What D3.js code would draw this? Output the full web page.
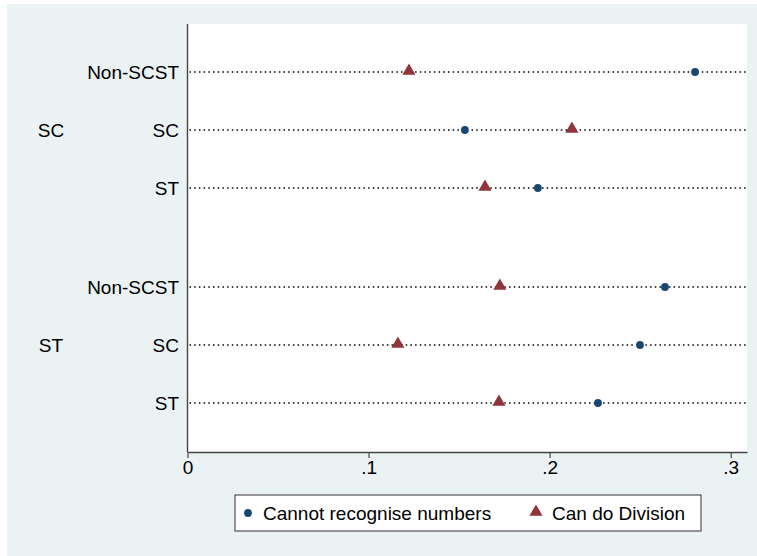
<!DOCTYPE html>
<html>
<head>
<meta charset="utf-8">
<script src="https://cdn.jsdelivr.net/npm/d3@7"></script>
<style>
  body { margin: 0; background: #fff; }
  text { font-family: "Liberation Sans", Arial, Helvetica, sans-serif; fill: #000; }
</style>
</head>
<body>
<script>
// data
var groups = ["SC", "ST"];
var rows = ["Non-SCST", "SC", "ST"];
var cannotRecognise = [[0.2803, 0.1532, 0.1935], [0.2637, 0.2499, 0.2267]];
var canDivide = [[0.1223, 0.2123, 0.1643], [0.1725, 0.1162, 0.1720]];
var xTicks = [0, 0.1, 0.2, 0.3];
var xTickLabels = ["0", ".1", ".2", ".3"];
var seriesNames = ["Cannot recognise numbers", "Can do Division"];

var width = 757, height = 556;
var plotLeft = 187.5, plotRight = 747, plotTop = 24, plotBottom = 452;
var navy = "#1a476f", maroon = "#90353b";
var groupGap = 1.707; // extra slots between the two groups

var svg = d3.select("body")
    .append("svg")
    .attr("width", width)
    .attr("height", height);

// background
svg.append("rect")
    .attr("x", 7).attr("y", 4)
    .attr("width", width - 7).attr("height", height - 4)
    .attr("fill", "#eaf2f3");

svg.append("rect")
    .attr("x", plotLeft).attr("y", plotTop)
    .attr("width", plotRight - plotLeft).attr("height", plotBottom - plotTop)
    .attr("fill", "#fff");

// scales
var xScale = d3.scaleLinear()
    .domain([0, 0.309])
    .range([plotLeft, plotRight]);

var yScale = d3.scaleLinear()
    .domain([0, rows.length * groups.length - 1 + groupGap - 1])
    .range([72, 403]);

function slot(g, r) { return g * (rows.length - 1 + groupGap) + r; }

// flatten to points
var lines = [];
groups.forEach(function(g, gi) {
    rows.forEach(function(r, ri) {
        lines.push({ group: g, row: r, y: yScale(slot(gi, ri)),
            a: cannotRecognise[gi][ri], b: canDivide[gi][ri] });
    });
});

// dotted lines
svg.selectAll(".dotline")
    .data(lines)
    .enter()
    .append("line")
    .attr("class", "dotline")
    .attr("x1", plotLeft + 2)
    .attr("x2", plotRight)
    .attr("y1", function(d) { return d.y; })
    .attr("y2", function(d) { return d.y; })
    .attr("stroke", "#000")
    .attr("stroke-width", 1.5)
    .attr("stroke-dasharray", "1.5,3.2");

// row labels
svg.selectAll(".rowlabel")
    .data(lines)
    .enter()
    .append("text")
    .attr("class", "rowlabel")
    .attr("x", 179)
    .attr("y", function(d) { return d.y + 7; })
    .attr("text-anchor", "end")
    .style("font-size", "19px")
    .text(function(d) { return d.row; });

// group labels
svg.selectAll(".grouplabel")
    .data(groups)
    .enter()
    .append("text")
    .attr("class", "grouplabel")
    .attr("x", 51)
    .attr("y", function(d, i) { return yScale(slot(i, 1)) + 7; })
    .attr("text-anchor", "middle")
    .style("font-size", "19px")
    .text(function(d) { return d; });

// markers
var tri = d3.symbol().type(d3.symbolTriangle).size(75);

svg.selectAll(".tri")
    .data(lines)
    .enter()
    .append("path")
    .attr("class", "tri")
    .attr("d", tri)
    .attr("transform", function(d) { return "translate(" + xScale(d.b) + "," + (d.y - 1) + ")"; })
    .attr("fill", maroon);

svg.selectAll(".dot")
    .data(lines)
    .enter()
    .append("circle")
    .attr("class", "dot")
    .attr("cx", function(d) { return xScale(d.a); })
    .attr("cy", function(d) { return d.y; })
    .attr("r", 3.9)
    .attr("fill", navy);

// axes
var xAxis = d3.axisBottom(xScale)
    .tickValues(xTicks)
    .tickFormat(function(d, i) { return xTickLabels[i]; })
    .tickSize(6)
    .tickSizeOuter(0);

var gx = svg.append("g")
    .attr("transform", "translate(0," + plotBottom + ")")
    .call(xAxis);
gx.select(".domain").attr("stroke", "#444").attr("stroke-width", 1.4);
gx.selectAll(".tick line").attr("stroke", "#444").attr("stroke-width", 1.2);
gx.selectAll(".tick text")
    .attr("y", 9)
    .style("font-size", "19px")
    .style("font-family", "Liberation Sans, Arial, sans-serif")
    .attr("fill", "#000");

svg.append("line")
    .attr("x1", plotLeft).attr("x2", plotLeft)
    .attr("y1", plotTop).attr("y2", plotBottom)
    .attr("stroke", "#444")
    .attr("stroke-width", 1.4);

// legend
var legend = svg.append("g");
legend.append("rect")
    .attr("x", 235).attr("y", 495)
    .attr("width", 466).attr("height", 36)
    .attr("fill", "#fff")
    .attr("stroke", "#333")
    .attr("stroke-width", 1);

legend.append("circle")
    .attr("cx", 248).attr("cy", 513)
    .attr("r", 3.9)
    .attr("fill", navy);
legend.append("text")
    .attr("x", 263).attr("y", 520)
    .style("font-size", "19px")
    .text(seriesNames[0]);

legend.append("path")
    .attr("d", tri)
    .attr("transform", "translate(536,512)")
    .attr("fill", maroon);
legend.append("text")
    .attr("x", 552).attr("y", 520)
    .style("font-size", "19px")
    .text(seriesNames[1]);
</script>
</body>
</html>
